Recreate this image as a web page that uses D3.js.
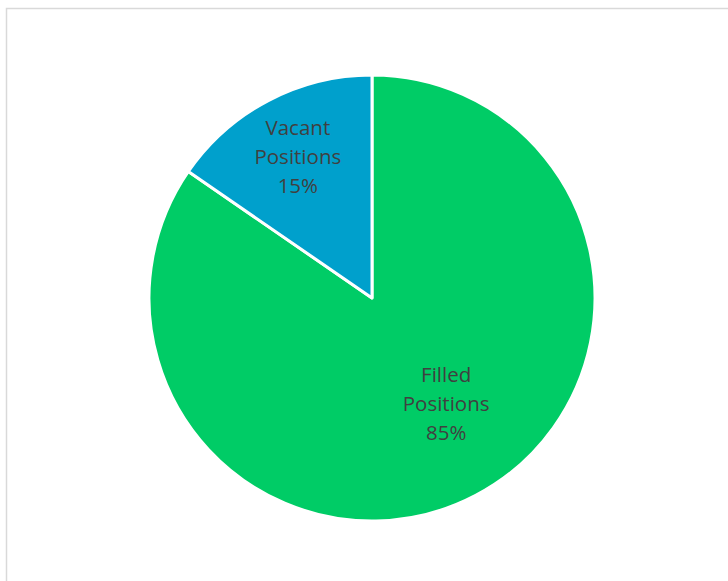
<!DOCTYPE html>
<html>
<head>
<meta charset="utf-8">
<script src="https://cdn.jsdelivr.net/npm/d3@7"></script>
<style>
  html, body { margin: 0; padding: 0; background: #fff; }
  svg { display: block; }
</style>
</head>
<body>
<svg id="chart" width="728" height="581"></svg>
<script>
const categories = ["Filled Positions", "Vacant Positions"];
const values = [84.6, 15.4];
const colors = ["#00CC66", "#00A0CC"];

const svg = d3.select("#chart");

svg.append("rect")
  .attr("x", 6.5).attr("y", 8.5)
  .attr("width", 800).attr("height", 700)
  .attr("fill", "#fff")
  .attr("stroke", "#d9d9d9")
  .attr("stroke-width", 1.5);

const cx = 372, cy = 298, R = 223;
const g = svg.append("g").attr("transform", `translate(${cx},${cy})`);

const data = categories.map((c, i) => ({ name: c, value: values[i], color: colors[i] }));
const pie = d3.pie().sort(null).value(d => d.value).startAngle(0).endAngle(2 * Math.PI);
const arcs = pie(data);
const arc = d3.arc().innerRadius(0).outerRadius(R);

g.selectAll("path.slice")
  .data(arcs)
  .join("path")
  .attr("class", "slice")
  .attr("d", arc)
  .attr("fill", d => d.data.color)
  .attr("stroke", "#fff")
  .attr("stroke-width", 3)
  .attr("stroke-linejoin", "round");

const labelFactors = [0.58, 0.715];
const labelShift = [[14, -8], [0, 0]];
const total = d3.sum(values);
arcs.forEach((a, i) => {
  const la = d3.arc().innerRadius(R * labelFactors[i]).outerRadius(R * labelFactors[i]);
  let [lx, ly] = la.centroid(a);
  lx += labelShift[i][0]; ly += labelShift[i][1];
  const words = a.data.name.split(" ");
  const lines = [words[0], words[1], Math.round(a.data.value / total * 100) + "%"];
  const t = g.append("text")
    .attr("text-anchor", "middle")
    .attr("font-family", "'Open Sans', sans-serif")
    .attr("font-size", 20.5)
    .attr("fill", "#404040");
  lines.forEach((ln, j) => {
    t.append("tspan")
      .attr("x", lx)
      .attr("y", ly + (j - 1) * 29 + 7)
      .text(ln);
  });
});
</script>
</body>
</html>
